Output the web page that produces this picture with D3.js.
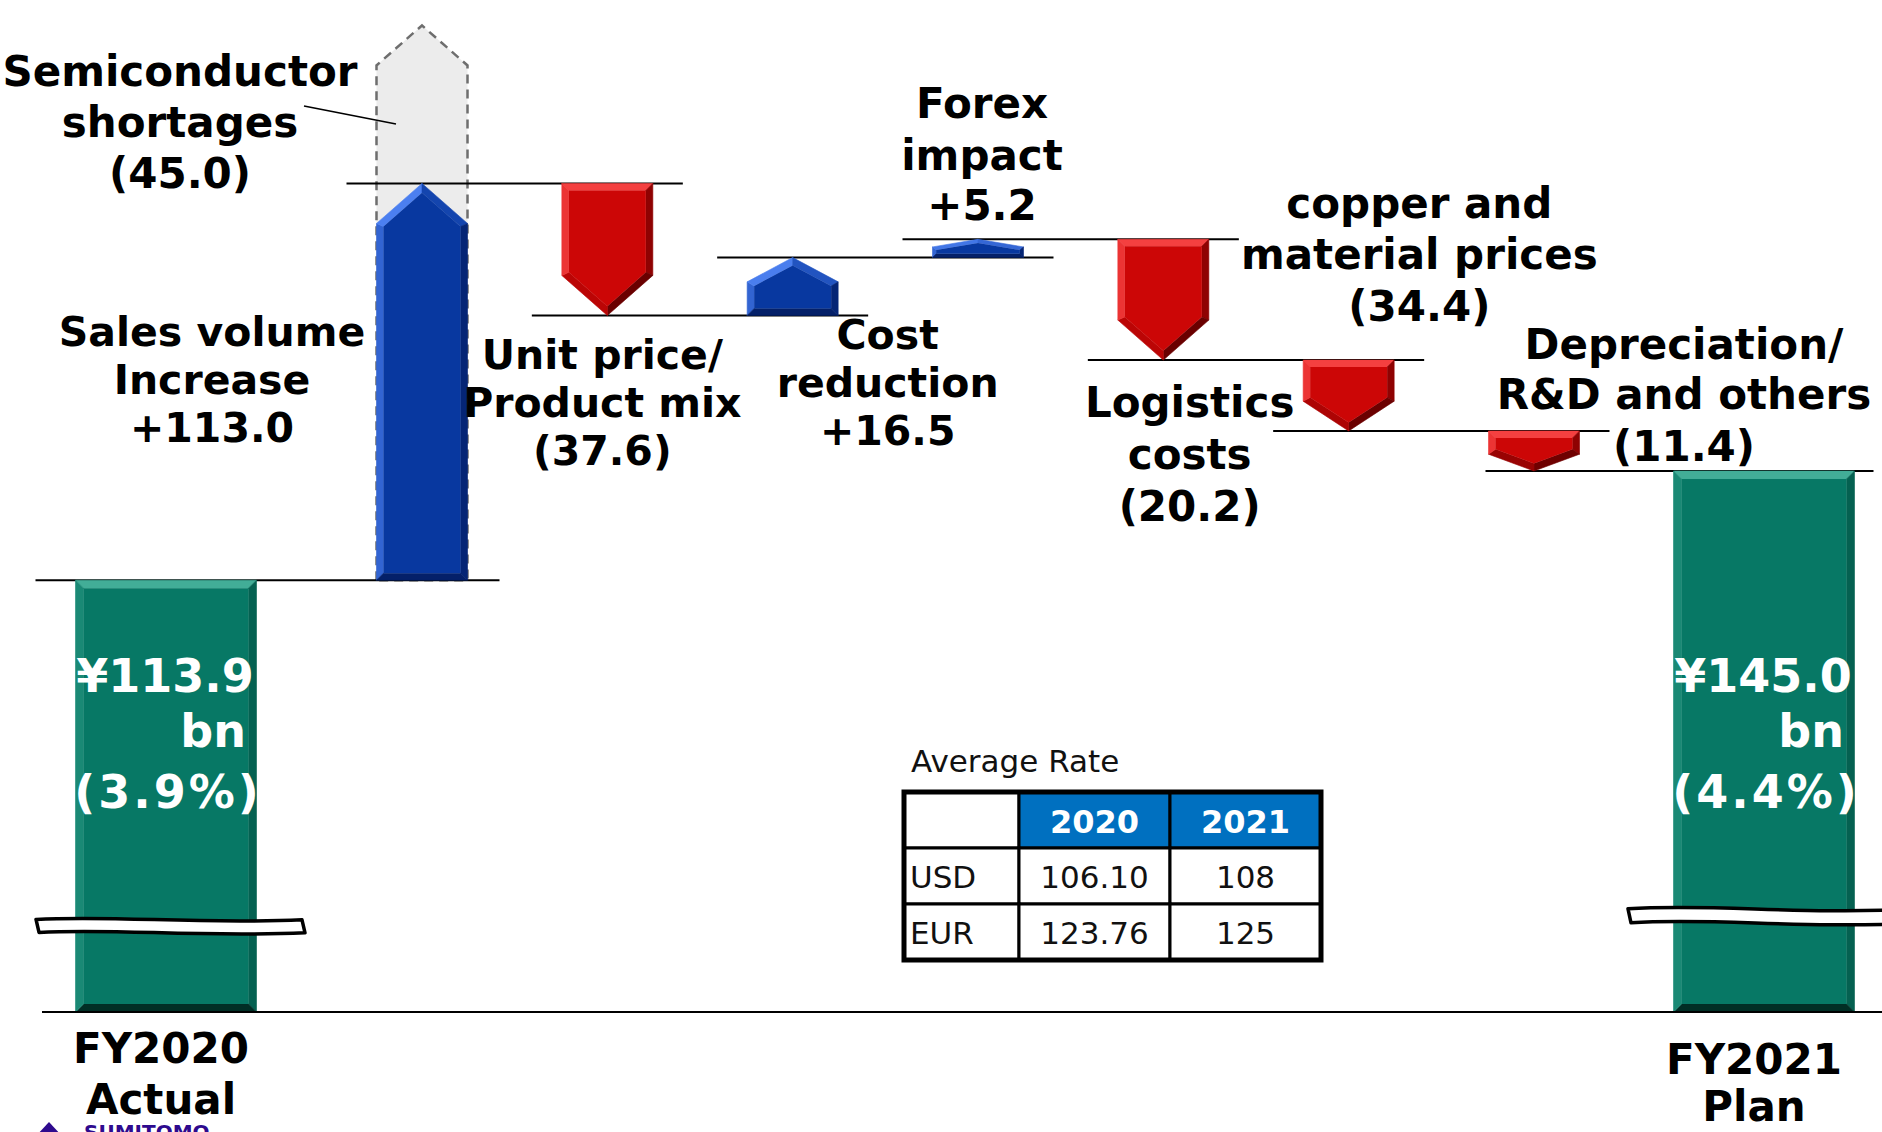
<!DOCTYPE html>
<html><head><meta charset="utf-8">
<script src="https://cdn.jsdelivr.net/npm/d3@7"></script>
<style>html,body{margin:0;padding:0;background:#fff;overflow:hidden}</style>
</head><body><svg id="chart" width="1882" height="1132"></svg>
<script>
// ---------------- data ----------------
const totalNames = ["FY2020 Actual", "FY2021 Plan"];
const totalLines = [["FY2020", "Actual"], ["FY2021", "Plan"]];
const totalValues = [113.9, 145.0];
const totalRatios = ["3.9%", "4.4%"];
const stepLines = [["Sales volume", "Increase"], ["Unit price/", "Product mix"], ["Cost", "reduction"],
  ["Forex", "impact"], ["copper and", "material prices"], ["Logistics", "costs"], ["Depreciation/", "R&D and others"]];
const stepValues = [113.0, -37.6, 16.5, 5.2, -34.4, -20.2, -11.4];
const ghostLines = ["Semiconductor", "shortages"];
const ghostValue = 45.0; // lost by semiconductor shortages (shown on top of sales volume)
const rateTitle = "Average Rate";
const rateYears = ["2020", "2021"];
const rateCurrencies = ["USD", "EUR"];
const rateValues = [["106.10", "108"], ["123.76", "125"]];

// ---------------- setup ----------------
const stepNames = stepLines.map(l => l.join(" "));
const svg = d3.select("#chart");
const FONT = "'DejaVu Sans', Verdana, sans-serif";
const fmt = v => v >= 0 ? "+" + v.toFixed(1) : "(" + Math.abs(v).toFixed(1) + ")";

const y = d3.scaleLinear().domain([100, 280]).range([629, -3]);
const baseY = 1012;
const xStep = d3.scalePoint().domain(stepNames).range([422, 1534]);
const xTotal = d3.scalePoint().domain(totalNames).range([166, 1764]);
const stepW = 91, totalW = 181, headMax = 40;

const pal = {
  blue: {main: "#0838a0", light: "#4b7ff0", dark: "#03195a"},
  red: {main: "#cc0606", light: "#ff5050", dark: "#6a0000"},
  green: {main: "#077865", light: "#45b09a", dark: "#012a22"}
};

function signedArea(p) { let a = 0; for (let i = 0; i < p.length; i++) { const q = p[(i + 1) % p.length]; a += p[i][0] * q[1] - q[0] * p[i][1]; } return a / 2; }
function inset(p, d) {
  const s = signedArea(p) > 0 ? 1 : -1;
  const ls = p.map((a, i) => { const b = p[(i + 1) % p.length]; let ux = b[0] - a[0], uy = b[1] - a[1]; const L = Math.hypot(ux, uy); ux /= L; uy /= L;
    const nx = s * (-uy), ny = s * ux; return {px: a[0] + nx * d, py: a[1] + ny * d, ux, uy}; });
  return p.map((_, i) => { const A = ls[(i - 1 + p.length) % p.length], B = ls[i]; const cr = A.ux * B.uy - A.uy * B.ux;
    if (Math.abs(cr) < 1e-9) return [B.px, B.py];
    const t = ((B.px - A.px) * B.uy - (B.py - A.py) * B.ux) / cr; return [A.px + t * A.ux, A.py + t * A.uy]; });
}
const line = d3.line();
function bevelShape(g, pts, c, d, Ld) {
  const inner = inset(pts, d);
  const s = signedArea(pts) > 0 ? 1 : -1;
  pts.forEach((a, i) => {
    const j = (i + 1) % pts.length, b = pts[j];
    let ux = b[0] - a[0], uy = b[1] - a[1]; const len = Math.hypot(ux, uy); ux /= len; uy /= len;
    const ox = -s * (-uy), oy = -s * ux; const br = ox * Ld[0] + oy * Ld[1];
    const col = br >= 0 ? d3.interpolateRgb(c.main, c.light)(br) : d3.interpolateRgb(c.main, c.dark)(-br);
    g.append("path").attr("d", line([a, b, inner[j], inner[i]]) + "Z").attr("fill", col).attr("stroke", col).attr("stroke-width", 0.6);
  });
  g.append("path").attr("d", line(inner) + "Z").attr("fill", c.main);
}
function arrowPts(cx, w, v0, v1, hm) {
  const x0 = cx - w / 2, x1 = cx + w / 2, y0 = y(v0), y1 = y(v1);
  const len = Math.abs(y1 - y0), h = Math.min(hm, 0.42 * len);
  return v1 > v0
    ? [[x0, y0], [x0, y1 + h], [cx, y1], [x1, y1 + h], [x1, y0]]
    : [[x0, y0], [x1, y0], [x1, y1 - h], [cx, y1], [x0, y1 - h]];
}
// one <text> per label block, one <tspan> per line
function multiText(g, x, baselines, lines, opts) {
  const t = g.append("text").attr("font-family", FONT).attr("font-weight", opts.weight || "bold")
    .attr("font-size", opts.size || 42).attr("fill", opts.fill || "#000")
    .attr("text-anchor", opts.anchor || "middle").attr("letter-spacing", opts.ls || 0);
  lines.forEach((s, i) => t.append("tspan").attr("x", x).attr("y", baselines[i]).text(s));
  return t;
}

// running levels
let lev = totalValues[0];
const steps = stepValues.map((v, i) => { const from = lev; lev = +(lev + v).toFixed(1); return {i, name: stepNames[i], v, from, to: lev}; });

// ---------------- ghost (semiconductor shortages) ----------------
const gGhost = svg.append("g");
const s0 = steps[0];
gGhost.append("path")
  .attr("d", line(arrowPts(xStep(s0.name), stepW, s0.from, s0.to + ghostValue, headMax)) + "Z")
  .attr("fill", "#ececec").attr("stroke", "#6e6e6e").attr("stroke-width", 2.5).attr("stroke-dasharray", "9,6");

// ---------------- connector lines ----------------
const gLines = svg.append("g").attr("stroke", "#000").attr("stroke-width", 2);
gLines.append("line").attr("x1", xTotal(totalNames[0]) - totalW / 2 - 40).attr("x2", xStep(stepNames[0]) + stepW / 2 + 32)
  .attr("y1", y(totalValues[0])).attr("y2", y(totalValues[0]));
steps.forEach((s, i) => {
  const last = i === steps.length - 1;
  const xa = xStep(s.name) - stepW / 2 - (last ? 3 : 30);
  const xb = !last ? xStep(steps[i + 1].name) + stepW / 2 + 30 : xTotal(totalNames[1]) + totalW / 2 + 19;
  gLines.append("line").attr("x1", xa).attr("x2", xb).attr("y1", y(s.to)).attr("y2", y(s.to));
});

// ---------------- step arrows ----------------
const gArrows = svg.append("g");
steps.forEach(s => {
  const pts = arrowPts(xStep(s.name), stepW, s.from, s.to, headMax);
  const len = Math.abs(y(s.to) - y(s.from));
  bevelShape(gArrows.append("g"), pts, s.v >= 0 ? pal.blue : pal.red, Math.min(7, len * 0.2), [-0.62, -0.78]);
});

// ---------------- total bars ----------------
const gTot = svg.append("g");
totalNames.forEach((n, i) => {
  const cx = xTotal(n), x0 = cx - totalW / 2, x1 = cx + totalW / 2, yt = y(totalValues[i]);
  bevelShape(gTot.append("g"), [[x0, yt], [x1, yt], [x1, baseY], [x0, baseY]], pal.green, 8, [-0.3, -0.95]);
});

// break symbols
function breakPath(xa, xb, ym, amp, t) {
  const W = xb - xa;
  const top = [[xa, ym - t / 2 - amp * 0.3], [xa + W * 0.3, ym - t / 2 - amp * 1.6], [xa + W * 0.6, ym - t / 2 + amp * 1.2], [xb, ym - t / 2 - amp * 0.2]];
  const bot = top.map(p => [p[0], p[1] + t]);
  bot[0][0] += 3; bot[3][0] += 3;
  return `M${top[0]}C${top[1]} ${top[2]} ${top[3]}L${bot[3]}C${bot[2]} ${bot[1]} ${bot[0]}Z`;
}
const gBreak = svg.append("g");
gBreak.append("path").attr("d", breakPath(xTotal(totalNames[0]) - 130, xTotal(totalNames[0]) + 136, 927, 3.5, 13))
  .attr("fill", "#fff").attr("stroke", "#000").attr("stroke-width", 3.5).attr("stroke-linejoin", "round");
gBreak.append("path").attr("d", breakPath(xTotal(totalNames[1]) - 136, xTotal(totalNames[1]) + 150, 917, 4, 14))
  .attr("fill", "#fff").attr("stroke", "#000").attr("stroke-width", 3.5).attr("stroke-linejoin", "round");

// baseline
svg.append("line").attr("x1", 42).attr("x2", 1882).attr("y1", baseY).attr("y2", baseY).attr("stroke", "#000").attr("stroke-width", 2);

// ---------------- total labels ----------------
const gTL = svg.append("g");
totalNames.forEach((n, i) => {
  const cx = xTotal(n);
  multiText(gTL, cx - 1, [692], ["¥" + totalValues[i].toFixed(1)], {size: 46, fill: "#fff"});
  multiText(gTL, cx + 80, [747], ["bn"], {size: 46, fill: "#fff", anchor: "end"});
  multiText(gTL, cx + 2, [808], ["(" + totalRatios[i] + ")"], {size: 46, fill: "#fff", ls: 3});
  const dxl = i === 0 ? -5 : -10, bl = i === 0 ? [1063, 1114] : [1074, 1121];
  multiText(gTL, cx + dxl, bl, totalLines[i], {size: 42});
});

// ---------------- step labels ----------------
const labelLayout = [
  {ref: "from", dx: -210, dy: [-234, -186, -138], size: 41},
  {ref: "to", dx: -5, dy: [54, 102, 150], size: 41},
  {ref: "from", dx: 95, dy: [34, 82, 130], size: 41},
  {ref: "to", dx: 4, dy: [-121, -69, -19], size: 42},
  {ref: "from", dx: 256, dy: [-21, 30, 82], size: 42},
  {ref: "from", dx: -159, dy: [57, 109, 161], size: 42},
  {ref: "to", dx: 150, dy: [-112, -62, -10], size: 42}
];
const gSL = svg.append("g");
steps.forEach((s, i) => {
  const L = labelLayout[i], yr = y(s[L.ref]);
  multiText(gSL, xStep(s.name) + L.dx, L.dy.map(d => yr + d), [...stepLines[i], fmt(s.v)], {size: L.size});
});
// ghost label + leader
multiText(gSL, 180, [86, 137, 188], [...ghostLines, fmt(-ghostValue)], {size: 42});
svg.append("line").attr("x1", 304).attr("y1", 106).attr("x2", xStep(stepNames[0]) - 26).attr("y2", 124)
  .attr("stroke", "#000").attr("stroke-width", 1.6);

// ---------------- rate table ----------------
const tb = {x: 904, y: 792, colW: [115, 151, 151], rowH: 56};
const gT = svg.append("g");
gT.append("text").attr("x", tb.x + 7).attr("y", tb.y - 20).text(rateTitle)
  .attr("font-family", FONT).attr("font-size", 31).attr("fill", "#111");
const rows = [["", ...rateYears], ...rateCurrencies.map((c, i) => [c, ...rateValues[i]])];
const colX = [tb.x, tb.x + tb.colW[0], tb.x + tb.colW[0] + tb.colW[1]];
rows.forEach((r, ri) => {
  r.forEach((cell, ci) => {
    const x0 = colX[ci], y0 = tb.y + ri * tb.rowH, w = tb.colW[ci];
    gT.append("rect").attr("x", x0).attr("y", y0).attr("width", w).attr("height", tb.rowH)
      .attr("fill", ri === 0 && ci > 0 ? "#0070c0" : "#fff").attr("stroke", "#000").attr("stroke-width", 3);
    if (!cell) return;
    const t = gT.append("text").text(cell).attr("font-family", FONT);
    if (ri === 0) t.attr("x", x0 + w / 2).attr("y", y0 + 41).attr("text-anchor", "middle").attr("font-weight", "bold").attr("font-size", 32).attr("fill", "#fff");
    else if (ci === 0) t.attr("x", x0 + 6).attr("y", y0 + 40).attr("font-size", 31).attr("fill", "#111");
    else t.attr("x", x0 + w / 2).attr("y", y0 + 40).attr("text-anchor", "middle").attr("font-size", 31).attr("fill", "#111");
  });
});
gT.append("rect").attr("x", tb.x).attr("y", tb.y).attr("width", d3.sum(tb.colW)).attr("height", tb.rowH * rows.length)
  .attr("fill", "none").attr("stroke", "#000").attr("stroke-width", 5);

// ---------------- logo (cut off at bottom, as in the slide) ----------------
svg.append("path").attr("d", "M36,1136 L49,1122 L62,1136 Z").attr("fill", "#2e0a8e");
svg.append("text").attr("x", 84).attr("y", 1139).text("SUMITOMO").attr("font-family", FONT).attr("font-weight", "bold")
  .attr("font-size", 20).attr("fill", "#2e0a8e");
</script></body></html>
